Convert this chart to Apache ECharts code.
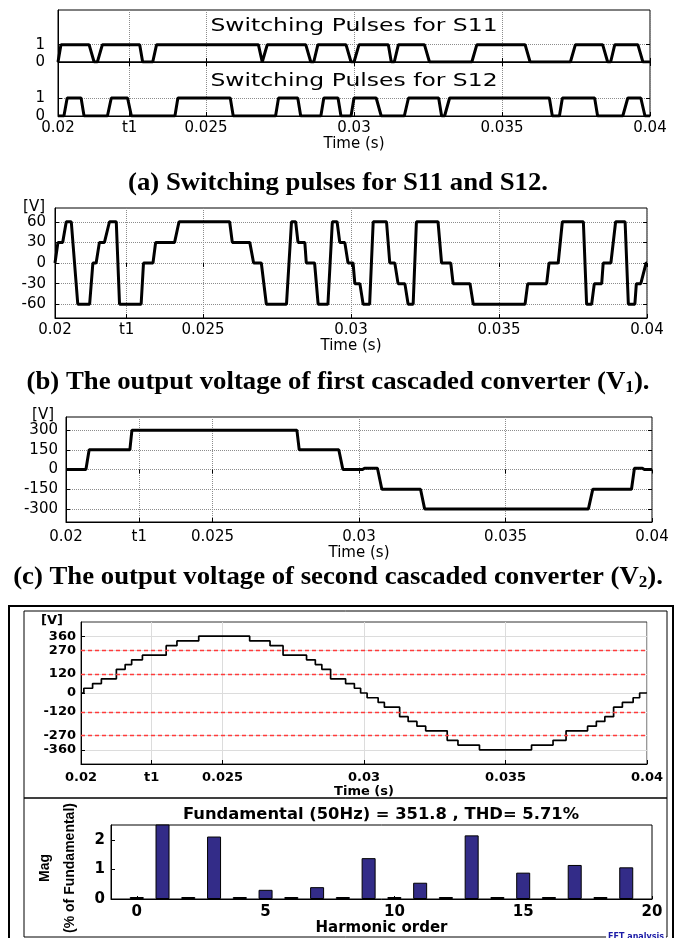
<!DOCTYPE html>
<html>
<head>
<meta charset="utf-8">
<script src="https://cdn.jsdelivr.net/npm/echarts@6/dist/echarts.min.js"></script>
<style>
  html, body { margin: 0; padding: 0; background: #fff; }
  #chart { width: 674px; height: 938px; }
</style>
</head>
<body>
<div id="chart"></div>
<script>
  // (a) switching pulses, corner points
  var s11Time = [0.02, 0.02003, 0.0201, 0.02105, 0.02122, 0.02133, 0.0215, 0.02276, 0.02286, 0.0232, 0.02333,
    0.02677, 0.0269, 0.02694, 0.02707, 0.02837, 0.02854, 0.02864, 0.02878, 0.02973, 0.0299, 0.03, 0.03017,
    0.03116, 0.03126, 0.03136, 0.0315, 0.03238, 0.03255, 0.03398, 0.03415, 0.03578, 0.03595, 0.03731, 0.03748,
    0.0384, 0.03857, 0.03867, 0.03881, 0.03959, 0.03976, 0.04];
  var s12Time = [0.02, 0.0202, 0.02031, 0.02078, 0.02088, 0.02167, 0.0218, 0.02235, 0.02248, 0.02395, 0.02405,
    0.02582, 0.02592, 0.02735, 0.02745, 0.0281, 0.0282, 0.02888, 0.02898, 0.02946, 0.02956, 0.0299, 0.03,
    0.03075, 0.03092, 0.0317, 0.03184, 0.03286, 0.03296, 0.03306, 0.03323, 0.0366, 0.0367, 0.03694, 0.03704,
    0.03813, 0.03823, 0.03908, 0.03925, 0.03969, 0.03983, 0.04];
  var pulseState = [0, 0, 1, 1, 0, 0, 1, 1, 0, 0, 1, 1, 0, 0, 1, 1, 0, 0, 1, 1, 0, 0, 1, 1, 0, 0, 1, 1, 0, 0,
    1, 1, 0, 0, 1, 1, 0, 0, 1, 1, 0, 0];

  // (b) first converter voltage V1
  var v1Time = [0.02, 0.02004, 0.0201, 0.02026, 0.02038, 0.02055, 0.02077, 0.02117, 0.02128, 0.02139,
    0.0215, 0.02167, 0.02184, 0.02207, 0.02218, 0.02291, 0.02299, 0.02331, 0.0234, 0.02404,
    0.02419, 0.0259, 0.02599, 0.02658, 0.02671, 0.02697, 0.02714, 0.02782, 0.02799, 0.02813,
    0.02821, 0.02844, 0.02849, 0.02877, 0.02889, 0.02922, 0.02937, 0.02953, 0.02962, 0.02979,
    0.0299, 0.03007, 0.03013, 0.0303, 0.03041, 0.03063, 0.03075, 0.0312, 0.03131, 0.03148,
    0.03159, 0.03182, 0.03193, 0.0321, 0.03221, 0.03294, 0.03306, 0.03337, 0.03345, 0.03402,
    0.03413, 0.03588, 0.03597, 0.03661, 0.03669, 0.037, 0.03714, 0.03785, 0.03796, 0.03813,
    0.03822, 0.03847, 0.03852, 0.03878, 0.03894, 0.03926, 0.03937, 0.03959, 0.03964, 0.03979,
    0.03997, 0.04];
  var v1Volt = [0, 0, 30, 30, 60, 60, -60, -60, 0, 0,
    30, 30, 60, 60, -60, -60, 0, 0, 30, 30,
    60, 60, 30, 30, 0, 0, -60, -60, 60, 60,
    30, 30, 0, 0, -60, -60, 60, 60, 30, 30,
    0, 0, -30, -30, -60, -60, 60, 60, 0, 0,
    -30, -30, -60, -60, 60, 60, 0, 0, -30, -30,
    -60, -60, -30, -30, 0, 0, 60, 60, -60, -60,
    -30, -30, 0, 0, 60, 60, -60, -60, -30, -30,
    0, 0];

  // (c) second converter voltage V2
  var v2Time = [0.02, 0.02068, 0.02079, 0.02218, 0.02225, 0.02788, 0.02796, 0.02931, 0.02945, 0.03012, 0.03019,
    0.03063, 0.03078, 0.0321, 0.03224, 0.03783, 0.03798, 0.0393, 0.0394, 0.03967, 0.03974, 0.04];
  var v2Volt = [0, 0, 150, 150, 300, 300, 150, 150, 0, 0, 10, 10, -150, -150, -300, -300, -150, -150, 10, 10, 0, 0];

  // (d) output staircase: level holds from each time to the next
  var vTime = [0.02, 0.0201, 0.02041, 0.02072, 0.02125, 0.02156, 0.02179, 0.02217, 0.02301, 0.02339,
    0.02416, 0.02596, 0.02668, 0.02714, 0.02797, 0.02828, 0.02851, 0.02882, 0.02935, 0.02966,
    0.02988, 0.03011, 0.0305, 0.03072, 0.03126, 0.03156, 0.03187, 0.03218, 0.03294, 0.03332,
    0.03408, 0.03592, 0.03668, 0.03714, 0.0379, 0.03821, 0.03851, 0.03882, 0.03913, 0.03951,
    0.03974, 0.04];
  var vVolt = [0, 30, 60, 90, 150, 180, 210, 240, 300, 330,
    360, 330, 300, 240, 210, 180, 150, 90, 60, 30,
    0, -30, -60, -90, -150, -180, -210, -240, -300, -330,
    -360, -330, -300, -240, -210, -180, -150, -90, -60, -30,
    0, 0];
  var refLevels = [270, 120, -120, -270];

  // FFT spectrum
  var harmOrder = [0, 1, 2, 3, 4, 5, 6, 7, 8, 9, 10, 11, 12, 13, 14, 15, 16, 17, 18, 19];
  var harmMag = [0, 100, 0, 2.11, 0, 0.31, 0, 0.40, 0, 1.38, 0, 0.55, 0, 2.15, 0, 0.89, 0, 1.15, 0, 1.07];

  // ticks
  var t1A = 0.02242, t1C = 0.0225;
  var timeTicksA = [0.02, t1A, 0.025, 0.03, 0.035, 0.04];
  var timeTicksC = [0.02, t1C, 0.025, 0.03, 0.035, 0.04];
  var pulseTicks = [0, 1];
  var v1Ticks = [-60, -30, 0, 30, 60];
  var v2Ticks = [-300, -150, 0, 150, 300];
  var vTicks = [-360, -270, -120, 0, 120, 270, 360];
  var harmTicks = [0, 5, 10, 15, 20];
  var magTicks = [0, 1, 2];

  var F = 'DejaVu Sans';
  var chart = echarts.init(document.getElementById('chart'));

  function pts(t, v) {
    return t.map(function (x, i) { return [x, v[i]]; });
  }

  function xTime(gi, ticks, t1, o) {
    var font = { color: '#000', fontFamily: F, fontSize: o.size || 15, fontWeight: o.weight || 'normal' };
    return {
      type: 'value', gridIndex: gi, min: 0.02, max: 0.04,
      axisLine: { onZero: false, lineStyle: { color: '#000' } },
      axisTick: { inside: true, length: 4, customValues: ticks, lineStyle: { color: '#000' } },
      axisLabel: Object.assign({
        show: !!o.label, customValues: ticks, margin: o.margin || 5,
        formatter: function (v) { return Math.abs(v - t1) < 1e-6 ? 't1' : String(+v.toFixed(3)); }
      }, font),
      splitLine: { show: true, lineStyle: { color: o.grid, type: o.gridType, width: 1 } },
      name: o.label ? 'Time (s)' : '', nameLocation: 'middle', nameGap: o.nameGap || 20,
      nameTextStyle: font
    };
  }

  function yVal(gi, min, max, ticks, o) {
    var font = { color: '#000', fontFamily: F, fontSize: o.size || 15, fontWeight: o.weight || 'normal' };
    return {
      type: 'value', gridIndex: gi, min: min, max: max,
      axisLine: { onZero: false, lineStyle: { color: '#000' } },
      axisTick: { inside: true, length: 4, customValues: ticks, lineStyle: { color: '#000' } },
      axisLabel: Object.assign({ customValues: ticks, margin: o.margin || 8 }, font),
      splitLine: { show: o.grid !== 'none', lineStyle: { color: o.grid, type: o.gridType, width: 1 } },
      name: o.name || '', nameLocation: 'end', nameGap: o.nameGap || 0,
      nameTextStyle: Object.assign({ align: 'right', verticalAlign: 'middle', padding: [0, o.namePad || 10, 0, 0] }, font)
    };
  }

  // matlab style box: inward ticks repeated on the top / right edge
  function mirror(gi, min, max, ticks, pos) {
    return {
      type: 'value', gridIndex: gi, min: min, max: max, position: pos,
      axisLine: { show: false },
      axisTick: { inside: true, length: 4, customValues: ticks, lineStyle: { color: '#000' } },
      axisLabel: { show: false },
      splitLine: { show: false }
    };
  }

  function txt(x, y, text, font, extra, sx) {
    return {
      type: 'text', x: x, y: y, scaleX: sx || 1, silent: true,
      style: Object.assign({
        text: text, font: font, fill: '#000',
        align: 'center', verticalAlign: 'middle', textAlign: 'center', textVerticalAlign: 'middle'
      }, extra || {})
    };
  }

  var capFont = 'bold 25px "Liberation Serif"';
  var capRich = { s: { fontFamily: 'Liberation Serif', fontWeight: 'bold', fontSize: 16, padding: [10, 0, 0, 0] } };
  var dotted = '#8c8c8c';

  var option = {
    backgroundColor: '#fff',
    animation: false,
    grid: [
      { left: 58, top: 10, width: 592, height: 52, show: true, borderColor: '#000', outerBoundsMode: 'none' },
      { left: 58, top: 62, width: 592, height: 54, show: true, borderColor: '#000', outerBoundsMode: 'none' },
      { left: 55, top: 208, width: 592, height: 110, show: true, borderColor: '#000', outerBoundsMode: 'none' },
      { left: 66, top: 417, width: 586, height: 105, show: true, borderColor: '#000', outerBoundsMode: 'none' },
      { left: 81, top: 622, width: 566, height: 142, show: true, borderColor: '#333', outerBoundsMode: 'none' },
      { left: 111, top: 825, width: 541, height: 74, show: true, borderColor: '#000', outerBoundsMode: 'none' }
    ],
    xAxis: [
      xTime(0, timeTicksA, t1A, { label: false, grid: dotted, gridType: 'dotted' }),
      xTime(1, timeTicksA, t1A, { label: true, grid: dotted, gridType: 'dotted', margin: 5, nameGap: 20 }),
      xTime(2, timeTicksA, t1A, { label: true, grid: dotted, gridType: 'dotted', margin: 5, nameGap: 21 }),
      xTime(3, timeTicksC, t1C, { label: true, grid: dotted, gridType: 'dotted', margin: 8, nameGap: 22 }),
      xTime(4, timeTicksC, t1C, { label: true, grid: '#dcdcdc', gridType: 'solid', margin: 7, nameGap: 19, size: 13, weight: 'bold' }),
      {
        type: 'value', gridIndex: 5, min: -1, max: 20,
        axisLine: { onZero: false, lineStyle: { color: '#000' } },
        axisTick: { inside: true, length: 3, customValues: harmTicks, lineStyle: { color: '#000' } },
        axisLabel: { customValues: harmTicks, margin: 6, color: '#000', fontFamily: F, fontSize: 15, fontWeight: 'bold' },
        splitLine: { show: false },
        name: 'Harmonic order', nameLocation: 'middle', nameGap: 18,
        nameTextStyle: { color: '#000', fontFamily: F, fontSize: 15, fontWeight: 'bold' }
      },
      mirror(0, 0.02, 0.04, timeTicksA, 'top'),
      mirror(2, 0.02, 0.04, timeTicksA, 'top'),
      mirror(3, 0.02, 0.04, timeTicksC, 'top')
    ],
    yAxis: [
      yVal(0, 0, 3, pulseTicks, { grid: dotted, gridType: 'dotted', margin: 13 }),
      yVal(1, 0, 3, pulseTicks, { grid: dotted, gridType: 'dotted', margin: 13 }),
      yVal(2, -80, 80, v1Ticks, { grid: dotted, gridType: 'dotted', margin: 9, name: '[V]', namePad: 10 }),
      yVal(3, -400, 400, v2Ticks, { grid: dotted, gridType: 'dotted', margin: 8, name: '[V]', namePad: 12 }),
      yVal(4, -450, 450, vTicks, { grid: '#dcdcdc', gridType: 'solid', margin: 5, size: 13, weight: 'bold', name: '[V]', namePad: 18, nameGap: 1 }),
      yVal(5, 0, 2.5, magTicks, { grid: 'none', margin: 6, weight: 'bold' }),
      mirror(0, 0, 3, pulseTicks, 'right'),
      mirror(1, 0, 3, pulseTicks, 'right'),
      mirror(2, -80, 80, v1Ticks, 'right'),
      mirror(3, -400, 400, v2Ticks, 'right')
    ],
    series: [
      { type: 'line', xAxisIndex: 0, yAxisIndex: 0, data: pts(s11Time, pulseState), symbol: 'none',
        lineStyle: { color: '#000', width: 3 } },
      { type: 'line', xAxisIndex: 1, yAxisIndex: 1, data: pts(s12Time, pulseState), symbol: 'none',
        lineStyle: { color: '#000', width: 3 } },
      { type: 'line', xAxisIndex: 2, yAxisIndex: 2, data: pts(v1Time, v1Volt), symbol: 'none',
        lineStyle: { color: '#000', width: 3 } },
      { type: 'line', xAxisIndex: 3, yAxisIndex: 3, data: pts(v2Time, v2Volt), symbol: 'none',
        lineStyle: { color: '#000', width: 3 } },
      { type: 'line', xAxisIndex: 4, yAxisIndex: 4, data: pts(vTime, vVolt), symbol: 'none', step: 'end',
        lineStyle: { color: '#000', width: 1.7 },
        markLine: {
          silent: true, symbol: 'none', label: { show: false },
          lineStyle: { color: '#ff3b3b', type: [4, 3], width: 1.3 },
          data: refLevels.map(function (v) { return { yAxis: v }; })
        } },
      { type: 'bar', xAxisIndex: 5, yAxisIndex: 5, data: pts(harmOrder, harmMag), barWidth: 14, barMinHeight: 2,
        itemStyle: { color: '#332c88', borderColor: '#000', borderWidth: 1 } }
    ],
    graphic: [
      txt(354, 27, 'Switching Pulses for S11', '17px "DejaVu Sans"', null, 1.38),
      txt(354, 82, 'Switching Pulses for S12', '17px "DejaVu Sans"', null, 1.38),
      txt(338, 184, '(a) Switching pulses for S11 and S12.', capFont, null, 1.07),
      txt(338, 383, '(b) The output voltage of first cascaded converter (V{s|1}).', capFont, { rich: capRich }, 1.07),
      txt(338, 578, '(c) The output voltage of second cascaded converter (V{s|2}).', capFont, { rich: capRich }, 1.07),
      { type: 'rect', silent: true, shape: { x: 9, y: 606, width: 664, height: 340 },
        style: { fill: 'none', stroke: '#000', lineWidth: 2 } },
      { type: 'rect', silent: true, shape: { x: 24, y: 611, width: 643, height: 187 },
        style: { fill: 'none', stroke: '#000', lineWidth: 1 } },
      { type: 'rect', silent: true, shape: { x: 24, y: 798, width: 643, height: 139 },
        style: { fill: 'none', stroke: '#000', lineWidth: 1 } },
      txt(381, 815, 'Fundamental (50Hz) = 351.8 , THD= 5.71%', 'bold 15px "DejaVu Sans"', null, 1.09),
      txt(58, 868, 'Mag\n(% of Fundamental)', 'bold 14px "Liberation Sans"', { lineHeight: 25 }),
      txt(636, 937, 'FFT analysis', 'bold 8px "DejaVu Sans"', { fill: '#1a1aa6', backgroundColor: '#fff', padding: [0, 2] })
    ]
  };
  option.graphic[9].rotation = Math.PI / 2;

  chart.setOption(option);
</script>
</body>
</html>
